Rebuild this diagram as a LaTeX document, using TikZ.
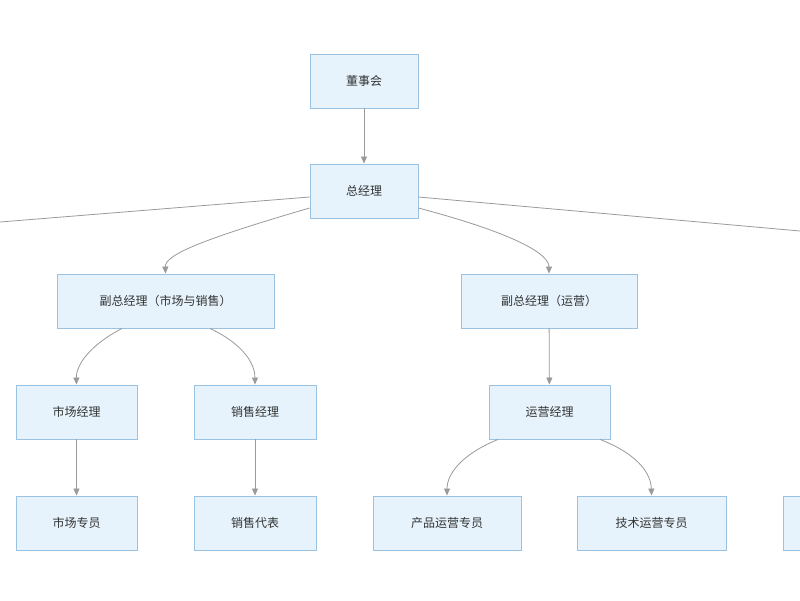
\documentclass[tikz,border=0pt]{standalone}
\usepackage{fontspec}
\setmainfont{Noto Sans CJK SC}
\usetikzlibrary{arrows.meta}
\definecolor{bfill}{HTML}{E6F3FC}
\definecolor{bdraw}{HTML}{9CC2E2}
\definecolor{ed}{HTML}{9A9A9A}
\begin{document}
\begin{tikzpicture}[x=1pt,y=-1pt,
  box/.style={draw=bdraw,fill=bfill,line width=0.9pt,minimum height=54pt,inner sep=0pt,font=\fontsize{12}{14}\selectfont,text=black!80},
  ar/.style={draw=ed,line width=0.8pt,-{Triangle[length=7pt,width=6pt]}},
  ln/.style={draw=ed,line width=0.8pt}]
\useasboundingbox[fill=white] (0,0) rectangle (800,600);
\node[box,minimum width=108pt] (a) at (364,81) {董事会};
\node[box,minimum width=108pt] (b) at (364,191) {总经理};
\node[box,minimum width=217pt] (c) at (165.5,301) {副总经理（市场与销售）};
\node[box,minimum width=176pt] (d) at (549,301) {副总经理（运营）};
\node[box,minimum width=121pt] (e) at (76.5,412) {市场经理};
\node[box,minimum width=122pt] (f) at (255,412) {销售经理};
\node[box,minimum width=121pt] (g) at (549.5,412) {运营经理};
\node[box,minimum width=121pt] (h) at (76.5,523) {市场专员};
\node[box,minimum width=122pt] (i) at (255,523) {销售代表};
\node[box,minimum width=148pt] (j) at (447,523) {产品运营专员};
\node[box,minimum width=149pt] (k) at (651.5,523) {技术运营专员};
\node[box,minimum width=60pt,anchor=west] (l) at (783,523) {};
\coordinate (L) at (0,222);
\coordinate (R) at (800,231);
\draw[ar] (a) -- (b);
\draw[ln] (b.west |- 0,197) -- (L);
\draw[ln] (b.east |- 0,197) -- (R);
\draw[ar] (b.west |- 0,208) .. controls (200,240) and (165,255) .. (c.north);
\draw[ar] (b.east |- 0,208) .. controls (520,235) and (549,255) .. (d.north);
\draw[ar] (c.south -| 122,0) .. controls (90,345) and (76,365) .. (e.north);
\draw[ar] (c.south -| 210,0) .. controls (245,345) and (255,365) .. (f.north);
\draw[ar] (d) -- (g);
\draw[ar] (e) -- (h);
\draw[ar] (f) -- (i);
\draw[ar] (g.south -| 498,0) .. controls (460,455) and (447,475) .. (j.north);
\draw[ar] (g.south -| 600,0) .. controls (640,455) and (651,475) .. (k.north);
\end{tikzpicture}
\end{document}
